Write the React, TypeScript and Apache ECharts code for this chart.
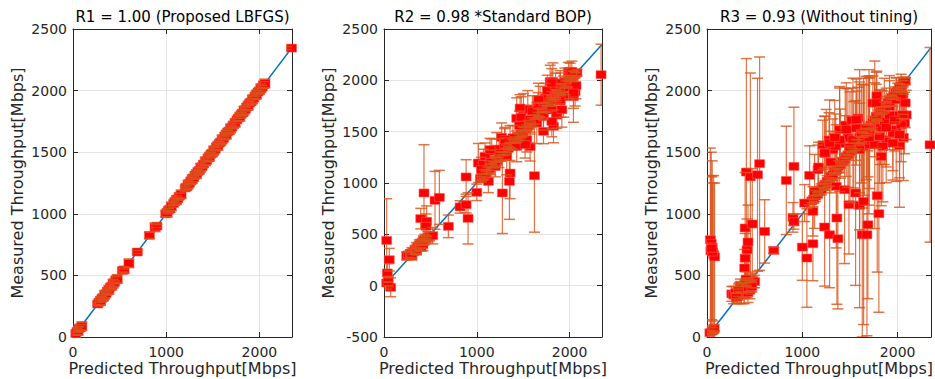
import React, { useEffect, useRef } from 'react';
import * as echarts from 'echarts';

// ---------------- DATA ----------------
const panelTitles = ['R1 = 1.00 (Proposed LBFGS)', 'R2 = 0.98 *Standard BOP)', 'R3 = 0.93 (Without tining)'];
const xAxisName = 'Predicted Throughput[Mbps]';
const yAxisName = 'Measured Throughput[Mbps]';
const xTicks = { min: 0, max: 2350, step: 1000 };
const yMins = [0, -500, 0];
const yMax = 2500;
const yStep = 500;
const identityLine = [30, 2345];

// [predicted, measured, error]
const lbfgsPoints = [
  [30, 28, 12], [42, 45, 25], [55, 50, 35], [65, 70, 12], [80, 76, 25], [95, 88, 35],
  [265, 268, 12], [280, 283, 25], [295, 293, 35], [310, 314, 12], [325, 322, 25], [340, 343, 35], [355, 352, 12],
  [370, 373, 25], [385, 383, 35], [400, 404, 12], [415, 412, 25], [430, 433, 35], [445, 443, 12], [460, 464, 25], [475, 471, 35],
  [530, 540, 12], [548, 545, 25], [600, 598, 35], [690, 690, 12], [820, 825, 25], [880, 890, 35], [900, 900, 12],
  [995, 1000, 25], [1010, 1008, 35], [1025, 1030, 12], [1040, 1038, 25], [1055, 1060, 35],
  [1080, 1085, 12], [1095, 1100, 25], [1110, 1112, 35], [1125, 1122, 12], [1140, 1143, 25], [1160, 1158, 35],
  [1205, 1210, 12], [1220, 1218, 25], [1235, 1238, 35], [1250, 1248, 12], [1265, 1268, 25],
  [1280, 1282, 35], [1295, 1293, 12], [1310, 1314, 25], [1325, 1322, 35], [1340, 1343, 12], [1355, 1352, 25], [1370, 1374, 35], [1385, 1383, 12], [1400, 1404, 25],
  [1420, 1425, 35], [1435, 1432, 12], [1450, 1455, 25], [1465, 1463, 35], [1480, 1484, 12], [1495, 1492, 25], [1510, 1513, 35], [1525, 1523, 12],
  [1540, 1544, 25], [1555, 1552, 35], [1570, 1573, 12], [1585, 1583, 25], [1600, 1604, 35], [1615, 1612, 12], [1630, 1633, 25], [1645, 1643, 35],
  [1660, 1664, 12], [1675, 1672, 25], [1690, 1693, 35], [1705, 1703, 12], [1720, 1722, 25], [1740, 1738, 35], [1760, 1763, 12],
  [1775, 1778, 25], [1790, 1788, 35], [1805, 1808, 12], [1820, 1818, 25], [1835, 1838, 35], [1850, 1848, 12], [1865, 1868, 25], [1880, 1878, 35],
  [1895, 1898, 12], [1910, 1908, 25], [1925, 1928, 35], [1940, 1938, 12], [1955, 1958, 25], [1970, 1968, 35], [1985, 1988, 12], [2000, 1998, 25],
  [2015, 2018, 35], [2030, 2028, 12], [2045, 2048, 25], [2060, 2058, 35],
  [2345, 2345, 12],
];

const bopBand = [
  [245, 290, 40], [265, 300, 25], [285, 310, 40], [300, 320, 50], [320, 330, 25], [335, 350, 40], [350, 360, 60], [365, 380, 25],
  [380, 395, 50], [395, 410, 40], [410, 420, 25], [425, 440, 45], [440, 450, 50], [455, 460, 25], [470, 470, 55], [490, 480, 45],
  [300, 290, 40], [350, 340, 25], [400, 380, 45], [420, 400, 60],
  [1040, 1045, 15], [1060, 1058, 30], [1080, 1085, 45], [1100, 1098, 15], [1120, 1125, 30], [1140, 1138, 45], [1160, 1165, 15],
  [1180, 1178, 30], [1200, 1205, 45], [1220, 1218, 15], [1240, 1245, 30], [1260, 1258, 45], [1280, 1285, 15], [1300, 1298, 30],
  [1320, 1325, 45], [1340, 1338, 15], [1360, 1365, 30], [1380, 1378, 45], [1400, 1405, 15], [1420, 1418, 30], [1440, 1445, 45],
  [1460, 1458, 15], [1480, 1485, 30], [1500, 1498, 45], [1520, 1525, 15], [1540, 1538, 30], [1560, 1565, 45], [1580, 1578, 15],
  [1600, 1605, 30], [1620, 1618, 45], [1640, 1645, 15], [1660, 1658, 30], [1680, 1685, 45], [1700, 1698, 15], [1720, 1725, 30],
  [1740, 1738, 45], [1760, 1765, 15], [1780, 1778, 30], [1800, 1805, 45], [1820, 1818, 15], [1840, 1845, 30], [1860, 1858, 45],
  [1880, 1885, 15], [1900, 1898, 30], [1920, 1925, 45], [1940, 1938, 15], [1960, 1965, 30], [1980, 1978, 45], [2000, 2005, 15],
  [2020, 2018, 30], [2040, 2045, 45], [2060, 2058, 15], [2080, 2075, 30],
];

const bopScatter = [
  [29, 441, 406], [57, 253, 110], [36, 124, 90], [29, 26, 60], [72, -16, 92], [45, 40, 50],
  [431, 903, 470], [396, 653, 100], [460, 627, 150], [453, 578, 120], [550, 831, 282], [597, 860, 263], [694, 578, 110], [525, 487, 80],
  [820, 767, 60], [885, 789, 80], [906, 656, 250], [885, 1059, 168], [1000, 909, 80],
  [1017, 1195, 190], [1071, 1179, 150], [1125, 1016, 110], [1161, 1309, 120], [1089, 1260, 130], [1215, 1331, 160], [1269, 1445, 140],
  [1276, 903, 395], [1323, 1260, 180], [1352, 1016, 370], [1359, 1097, 250], [1359, 1389, 170], [1431, 1630, 200], [1431, 1357, 150],
  [1503, 1711, 160], [1539, 1422, 120], [1575, 1354, 140], [1622, 1071, 550], [1647, 1584, 200], [1683, 1792, 150], [1719, 1646, 130],
  [1719, 1503, 120], [1791, 1987, 160], [1809, 1711, 180], [1827, 1552, 160], [1820, 1990, 180], [1863, 1662, 130], [1899, 1922, 150],
  [1935, 1841, 200], [1988, 2085, 90], [2006, 2087, 80], [2042, 1841, 250], [2060, 1890, 140], [2340, 2055, 297],
  [1300, 1380, 150], [1390, 1440, 120], [1460, 1560, 140], [1480, 1640, 200], [1550, 1720, 180], [1600, 1700, 150], [1660, 1760, 120],
  [1740, 1830, 140], [1760, 1900, 150], [1850, 1950, 120], [1900, 1800, 160], [1950, 1990, 130], [2000, 1930, 110], [2070, 1950, 130],
  [1150, 1200, 120], [1240, 1290, 140], [1200, 1160, 100], [1050, 1130, 120],
  [2025, 2087, 100], [2043, 1877, 150], [1899, 1974, 120], [1809, 1974, 140], [1665, 1812, 160], [1467, 1730, 130], [1917, 1714, 170],
  [1809, 1600, 150], [1575, 1617, 140], [1305, 1422, 120], [1143, 1325, 110], [1521, 1373, 130],
];

const plainBand = [
  [30, 35, 20], [55, 50, 25], [75, 70, 30], [700, 703, 25],
  [260, 350, 60], [280, 340, 70], [300, 360, 50], [320, 330, 60], [340, 370, 70], [360, 350, 80], [380, 380, 60], [400, 390, 70],
  [420, 400, 80], [440, 420, 60], [460, 440, 70], [480, 460, 60], [500, 450, 50], [390, 340, 70], [430, 360, 80], [350, 420, 50],
  [410, 470, 60], [450, 380, 70], [370, 400, 40], [330, 380, 50], [470, 410, 45], [310, 320, 40],
  [1100, 1105, 15], [1120, 1118, 30], [1140, 1145, 45], [1160, 1158, 15], [1180, 1185, 30], [1200, 1198, 45], [1220, 1225, 15],
  [1240, 1238, 30], [1260, 1265, 45], [1280, 1278, 15], [1300, 1305, 30], [1320, 1318, 45], [1340, 1345, 15], [1360, 1358, 30],
  [1380, 1385, 45], [1400, 1398, 15], [1420, 1425, 30], [1440, 1438, 45], [1460, 1465, 15], [1480, 1478, 30], [1500, 1505, 45],
  [1520, 1518, 15], [1540, 1545, 30], [1560, 1558, 45], [1580, 1585, 15], [1600, 1598, 30], [1620, 1625, 45], [1640, 1638, 15],
  [1660, 1665, 30], [1680, 1678, 45], [1700, 1705, 15], [1720, 1718, 30], [1740, 1745, 45], [1760, 1758, 15], [1780, 1785, 30],
  [1800, 1798, 45], [1820, 1825, 15], [1840, 1838, 30], [1860, 1865, 45], [1880, 1878, 15], [1900, 1905, 30], [1920, 1918, 45],
  [1940, 1945, 15], [1960, 1958, 30], [1980, 1985, 45], [2000, 1998, 15], [2020, 2025, 30], [2040, 2038, 45], [2060, 2065, 15],
  [2080, 2078, 30],
];

const plainScatter = [
  [35, 790, 744], [45, 760, 740], [55, 730, 700], [40, 700, 610], [70, 670, 640], [80, 650, 600], [60, 690, 560], [50, 720, 580],
  [395, 560, 150], [400, 640, 200], [420, 708, 250], [430, 771, 300], [400, 885, 450], [475, 917, 450], [413, 1339, 921],
  [455, 1300, 843], [552, 1407, 866], [530, 1317, 783], [605, 857, 257],
  [832, 1271, 440], [912, 1385, 480], [902, 971, 120], [912, 935, 60], [1000, 730, 270], [1048, 641, 400], [1111, 757, 300],
  [1024, 1087, 150], [1077, 1312, 240], [1164, 1358, 200], [1129, 1182, 300], [1111, 1020, 200], [1234, 893, 480], [1286, 830, 430],
  [1373, 798, 570], [1363, 966, 700], [1356, 1223, 500], [1443, 1196, 600], [1489, 1074, 400], [1559, 1169, 750], [1601, 1068, 830],
  [1643, 1101, 1000], [1629, 830, 830], [1678, 830, 820], [1688, 911, 600], [1786, 1147, 620], [1803, 1001, 800], [2340, 1560, 790],
  [1251, 1547, 300], [1321, 1520, 250], [1215, 1560, 200], [1280, 1600, 220], [1391, 1683, 350], [1478, 1615, 400], [1566, 1696, 300],
  [1583, 1777, 250], [1636, 1547, 500], [1706, 1655, 450], [1740, 1899, 220], [1758, 1763, 300], [1782, 1958, 200], [1828, 1466, 400],
  [1880, 1602, 350], [1915, 1872, 250], [1985, 1683, 420], [1985, 1926, 180], [2020, 1553, 500], [2055, 1958, 150], [2072, 1737, 250],
  [2090, 1803, 200], [1540, 1560, 350], [1600, 1620, 450], [1690, 1700, 400], [1820, 1700, 300], [1950, 1650, 300], [1400, 1570, 280],
  [1450, 1720, 300], [1520, 1760, 260], [1860, 1750, 350], [1700, 1560, 560], [1650, 1600, 450], [1760, 1560, 680], [2000, 1800, 260],
  [2060, 1620, 350], [1300, 1420, 250], [1170, 1380, 200], [1240, 1490, 300], [1350, 1550, 260],
  [1776, 1899, 250], [2037, 1953, 180], [2055, 1804, 220], [2037, 1723, 300], [2020, 1642, 350], [1845, 1547, 450], [1810, 1628, 380],
  [1671, 1696, 420], [1566, 1764, 330], [1531, 1601, 500], [1391, 1601, 420], [1286, 1574, 350], [1234, 1493, 300], [1461, 1683, 380],
  [1601, 1520, 650], [1950, 1574, 300], [1776, 1791, 260], [1915, 1800, 280], [1700, 1620, 550], [1880, 1700, 320], [1620, 1650, 400],
  [1500, 1540, 450], [1340, 1620, 300], [1970, 1760, 250], [2080, 1900, 200],
];

const panelData = [
  [...lbfgsPoints],
  [...bopBand, ...bopScatter],
  [...plainBand, ...plainScatter],
];

// ---------------- STYLE ----------------
const FONT = 'DejaVu Sans';
const AX = '#262626';
const GRID = '#E4E4E4';
const ERR = 'rgba(217,83,25,0.8)';
const MARK = '#FF0000';
const LINE = '#0072BD';
const CAP = 11;
const grids = [
  { left: 73, top: 29, width: 219, height: 308 },
  { left: 384, top: 29, width: 218, height: 308 },
  { left: 707, top: 29, width: 224, height: 308 },
];

const renderBar = (_p: any, api: any) => {
  const x = api.value(0), y = api.value(1), e = api.value(2);
  const t = api.coord([x, y + e]);
  const b = api.coord([x, y - e]);
  return { type: 'line', shape: { x1: t[0], y1: t[1], x2: b[0], y2: b[1] }, style: { stroke: ERR, lineWidth: 1.2 } };
};
const renderCaps = (_p: any, api: any) => {
  const x = api.value(0), y = api.value(1), e = api.value(2);
  const t = api.coord([x, y + e]);
  const b = api.coord([x, y - e]);
  const h = CAP / 2;
  return {
    type: 'group',
    children: [
      { type: 'line', shape: { x1: t[0] - h, y1: t[1], x2: t[0] + h, y2: t[1] }, style: { stroke: ERR, lineWidth: 1.5 } },
      { type: 'line', shape: { x1: b[0] - h, y1: b[1], x2: b[0] + h, y2: b[1] }, style: { stroke: ERR, lineWidth: 1.5 } },
    ],
  };
};

function buildOption() {
  const xAxis: any[] = [];
  const yAxis: any[] = [];
  const series: any[] = [];
  const graphic: any[] = [];
  const labelStyle = { color: AX, fontSize: 14, fontFamily: FONT };
  grids.forEach((g, i) => {
    const tickBase = { inside: true, length: 5, lineStyle: { color: AX, width: 1 } };
    const lineBase = { show: true, onZero: false, lineStyle: { color: AX, width: 1 } };
    xAxis.push({
      gridIndex: i, type: 'value', position: 'bottom', min: xTicks.min, max: xTicks.max, interval: xTicks.step,
      axisLine: lineBase, axisTick: tickBase,
      axisLabel: { ...labelStyle, margin: 8, formatter: (v: number) => (v % xTicks.step === 0 ? String(v) : '') },
      splitLine: { show: true, lineStyle: { color: GRID, width: 1 } },
      name: xAxisName, nameLocation: 'middle', nameGap: 23, nameMoveOverlap: false,
      nameTextStyle: { color: AX, fontSize: 16, fontFamily: FONT, lineHeight: 16 },
    });
    xAxis.push({
      gridIndex: i, type: 'value', position: 'top', min: xTicks.min, max: xTicks.max, interval: xTicks.step,
      axisLine: lineBase, axisTick: tickBase, axisLabel: { show: false }, splitLine: { show: false },
    });
    yAxis.push({
      gridIndex: i, type: 'value', position: 'left', min: yMins[i], max: yMax, interval: yStep,
      axisLine: lineBase, axisTick: tickBase,
      axisLabel: { ...labelStyle, margin: 6, formatter: (v: number) => String(v) },
      splitLine: { show: true, lineStyle: { color: GRID, width: 1 } },
      name: yAxisName, nameLocation: 'middle', nameGap: 48,
      nameTextStyle: { color: AX, fontSize: 16, fontFamily: FONT },
    });
    yAxis.push({
      gridIndex: i, type: 'value', position: 'right', min: yMins[i], max: yMax, interval: yStep,
      axisLine: lineBase, axisTick: tickBase, axisLabel: { show: false }, splitLine: { show: false },
    });
    const xi = i * 2, yi = i * 2;
    const pts = panelData[i];
    series.push({
      type: 'line', xAxisIndex: xi, yAxisIndex: yi, z: 1, symbol: 'none', silent: true,
      data: [[identityLine[0], identityLine[0]], [identityLine[1], identityLine[1]]],
      lineStyle: { color: LINE, width: 1.5 },
    });
    series.push({
      type: 'custom', xAxisIndex: xi, yAxisIndex: yi, z: 2, clip: true, silent: true,
      dimensions: ['x', 'y', 'e'], encode: { x: 0, y: 1 }, data: pts, renderItem: renderBar,
    });
    series.push({
      type: 'scatter', xAxisIndex: xi, yAxisIndex: yi, z: 3, silent: true,
      symbol: 'rect', symbolSize: [10, 8],
      itemStyle: { color: MARK, borderColor: 'rgba(255,90,90,0.7)', borderWidth: 0.8, opacity: 1 },
      data: pts.map((p) => [p[0], p[1]]),
    });
    series.push({
      type: 'custom', xAxisIndex: xi, yAxisIndex: yi, z: 4, clip: true, silent: true,
      dimensions: ['x', 'y', 'e'], encode: { x: 0, y: 1 }, data: pts, renderItem: renderCaps,
    });
    graphic.push({
      type: 'text', x: g.left + g.width / 2, y: 17, silent: true,
      style: {
        text: panelTitles[i], fill: '#000', font: `15px "${FONT}"`, fontSize: 15, fontFamily: FONT,
        align: 'center', verticalAlign: 'middle', textAlign: 'center', textVerticalAlign: 'middle',
      },
    });
  });
  return {
    animation: false,
    backgroundColor: '#ffffff',
    grid: grids.map((g) => ({ ...g, containLabel: false, outerBoundsMode: 'none' })),
    xAxis, yAxis, series, graphic,
  };
}

export default function App() {
  const ref = useRef<HTMLDivElement>(null);
  useEffect(() => {
    const chart = echarts.init(ref.current!, null, { renderer: 'svg' });
    chart.setOption(buildOption() as any);
    return () => chart.dispose();
  }, []);
  return (
    <div
      ref={ref}
      style={{ position: 'fixed', left: 0, top: 0, width: 935, height: 379, background: '#fff' }}
    />
  );
}
